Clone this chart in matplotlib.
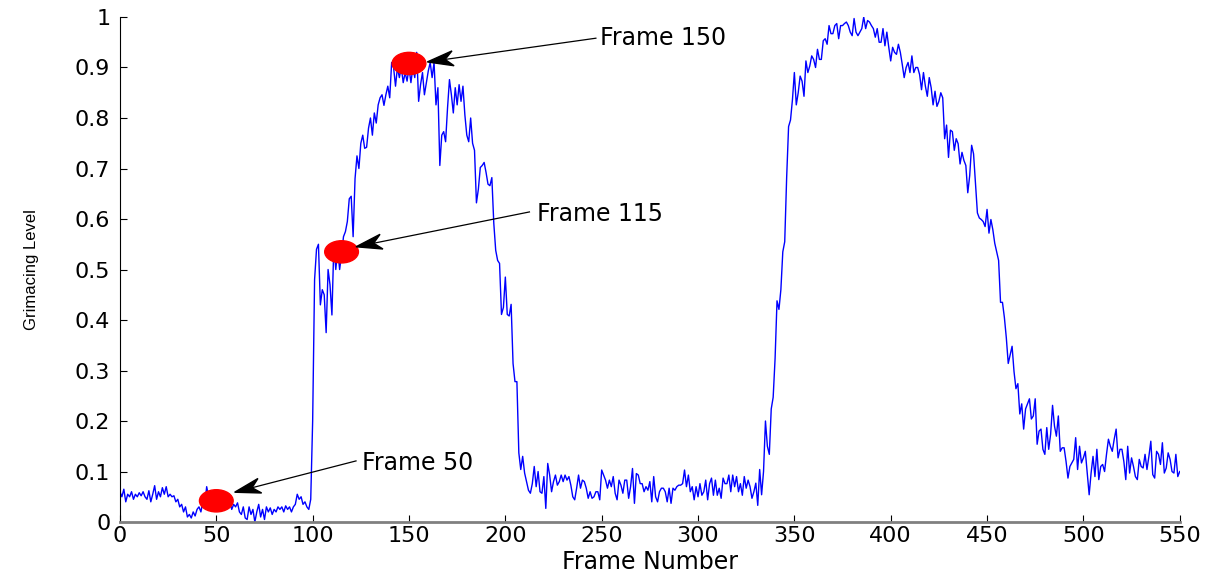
import numpy as np
import matplotlib
matplotlib.use("Agg")
import matplotlib.pyplot as plt
from matplotlib.patches import Ellipse, Polygon

# Grimacing level per frame (frames 0..550)
level_rest1 = [
    0.06, 0.05, 0.065, 0.04, 0.055, 0.05, 0.06, 0.045, 0.055, 0.05,
    0.058, 0.052, 0.06, 0.05, 0.045, 0.062, 0.04, 0.055, 0.072, 0.045,
    0.06, 0.05, 0.068, 0.055, 0.07, 0.05, 0.055, 0.05, 0.052, 0.04,
    0.045, 0.03, 0.035, 0.02, 0.03, 0.01, 0.015, 0.008, 0.02, 0.012,
    0.025, 0.03, 0.02, 0.04, 0.035, 0.07, 0.05, 0.06, 0.045, 0.055,
    0.04, 0.05, 0.045, 0.06, 0.035, 0.045, 0.03, 0.04, 0.025, 0.035,
    0.03, 0.038, 0.02, 0.015, 0.03, 0.008, 0.005, 0.03, 0.015, 0.025,
    0.0, 0.02, 0.035, 0.01, 0.025, 0.005, 0.03, 0.02, 0.028, 0.015,
    0.025, 0.02, 0.03, 0.025, 0.03, 0.02, 0.032, 0.025, 0.03, 0.02,
    0.03, 0.035, 0.055, 0.045, 0.05, 0.035, 0.04, 0.03, 0.025, 0.045,
]
level_peak1 = [
    0.2, 0.48, 0.54, 0.55, 0.43, 0.46, 0.45, 0.375, 0.5, 0.47,
    0.41, 0.55, 0.5, 0.54, 0.5, 0.53, 0.565, 0.575, 0.595, 0.64,
    0.645, 0.565, 0.68, 0.725, 0.7, 0.75, 0.766, 0.74, 0.742, 0.78,
    0.8, 0.766, 0.81, 0.79, 0.826, 0.84, 0.846, 0.825, 0.846, 0.863,
    0.84, 0.91, 0.9, 0.863, 0.9, 0.88, 0.9, 0.87, 0.89, 0.873,
    0.9, 0.87, 0.9, 0.88, 0.93, 0.833, 0.866, 0.89, 0.846, 0.87,
    0.893, 0.91, 0.88, 0.91, 0.826, 0.86, 0.706, 0.766, 0.773, 0.753,
    0.82, 0.876, 0.846, 0.81, 0.86, 0.826, 0.866, 0.833, 0.863, 0.806,
    0.766, 0.753, 0.8, 0.75, 0.736, 0.632, 0.659, 0.702, 0.706, 0.712,
    0.692, 0.669, 0.666, 0.682, 0.592, 0.538, 0.518, 0.512, 0.411, 0.425,
    0.485, 0.411, 0.408, 0.431, 0.314, 0.278, 0.278, 0.137, 0.104, 0.13,
    0.097,
]
level_rest2 = [
    0.08, 0.063, 0.057, 0.076, 0.11, 0.07, 0.1, 0.06, 0.057, 0.09,
    0.027, 0.116, 0.093, 0.06, 0.08, 0.093, 0.073, 0.08, 0.093, 0.08,
    0.093, 0.083, 0.09, 0.073, 0.05, 0.044, 0.067, 0.093, 0.067, 0.083,
    0.08, 0.067, 0.047, 0.06, 0.047, 0.05, 0.06, 0.06, 0.044, 0.103,
    0.093, 0.083, 0.067, 0.083, 0.07, 0.09, 0.057, 0.044, 0.083, 0.073,
    0.057, 0.083, 0.083, 0.047, 0.07, 0.106, 0.037, 0.096, 0.093, 0.076,
    0.076, 0.06, 0.07, 0.063, 0.08, 0.04, 0.09, 0.05, 0.04, 0.06,
    0.067, 0.067, 0.06, 0.04, 0.067, 0.037, 0.067, 0.063, 0.07, 0.073,
    0.073, 0.076, 0.103, 0.07, 0.093, 0.06, 0.07, 0.044, 0.07, 0.05,
    0.076, 0.053, 0.06, 0.083, 0.044, 0.076, 0.087, 0.053, 0.083, 0.053,
    0.067, 0.047, 0.087, 0.076, 0.076, 0.093, 0.06, 0.093, 0.07, 0.09,
    0.06, 0.076, 0.053, 0.09, 0.067, 0.083, 0.07,
]
level_peak2 = [
    0.047, 0.06, 0.077, 0.033, 0.104, 0.054, 0.1, 0.2, 0.15, 0.134,
    0.224, 0.247, 0.324, 0.438, 0.421, 0.46, 0.535, 0.555, 0.682, 0.783,
    0.796, 0.836, 0.89, 0.826, 0.85, 0.883, 0.873, 0.843, 0.913, 0.89,
    0.903, 0.923, 0.916, 0.9, 0.936, 0.916, 0.916, 0.953, 0.957, 0.946,
    0.983, 0.967, 0.967, 0.983, 0.987, 0.957, 0.983, 0.983, 0.987, 0.99,
    0.983, 0.97, 0.963, 0.997, 0.97, 0.963, 0.97, 0.977, 1.0, 0.977,
    0.993, 0.99, 0.983, 0.977, 0.96, 0.977, 0.95, 0.95, 0.977, 0.943,
    0.97, 0.94, 0.913, 0.94, 0.93, 0.926, 0.946, 0.93, 0.906, 0.88,
    0.9, 0.91, 0.89, 0.923, 0.89, 0.9, 0.9, 0.886, 0.856, 0.89,
    0.863, 0.843, 0.88, 0.86, 0.826, 0.853, 0.823, 0.833, 0.85, 0.84,
    0.759, 0.786, 0.722, 0.776, 0.773, 0.736, 0.759, 0.749, 0.709, 0.732,
    0.716, 0.706, 0.652, 0.686, 0.746, 0.729, 0.669, 0.612, 0.602, 0.599,
    0.595, 0.585, 0.619, 0.572, 0.599,
]
level_tail = [
    0.579, 0.552, 0.535, 0.518, 0.435, 0.435, 0.405, 0.365, 0.314, 0.331,
    0.348, 0.298, 0.264, 0.274, 0.214, 0.234, 0.184, 0.224, 0.234, 0.244,
    0.204, 0.21, 0.244, 0.154, 0.18, 0.184, 0.144, 0.134, 0.187, 0.144,
    0.174, 0.231, 0.19, 0.17, 0.21, 0.14, 0.147, 0.147, 0.12, 0.087,
    0.11, 0.117, 0.124, 0.167, 0.104, 0.15, 0.117, 0.127, 0.14, 0.097,
    0.054, 0.097, 0.13, 0.09, 0.144, 0.084, 0.11, 0.114, 0.1, 0.134,
    0.164, 0.15, 0.14, 0.164, 0.184, 0.127, 0.144, 0.144, 0.12, 0.084,
    0.15, 0.097, 0.127, 0.11, 0.09, 0.084, 0.124, 0.11, 0.107, 0.134,
    0.104, 0.13, 0.16, 0.094, 0.087, 0.14, 0.134, 0.114, 0.157, 0.097,
    0.107, 0.137, 0.124, 0.1, 0.097, 0.134, 0.09, 0.1,
]

# marked frames and where their labels sit
mark_frames = [50, 115, 150]
mark_levels = [0.042, 0.535, 0.908]
mark_labels = ["Frame 50", "Frame 115", "Frame 150"]
label_pos = [(125.5, 0.117), (216.5, 0.61), (249.0, 0.958)]
arrow_tail = [(122.5, 0.121), (212.5, 0.614), (247.0, 0.958)]
arrow_head = [(59.5, 0.059), (122.5, 0.545), (159.5, 0.911)]

level = np.array(level_rest1 + level_peak1 + level_rest2 + level_peak2 + level_tail)
frames = np.arange(len(level))

fig = plt.figure(figsize=(12.07, 5.76), dpi=100)
ax = fig.add_axes([0.0994, 0.0937, 0.878, 0.8768])

ax.plot(frames, level, color="#0000ff", linewidth=1.0)
ax.set_xlim(0, 550)
ax.set_ylim(0, 1)


def matlab_arrow(ax, tail, head, length=26, half_w=7.5, notch=8):
    # notched arrow head drawn in pixel space, then mapped back to data
    p0 = ax.transData.transform(tail)
    p1 = ax.transData.transform(head)
    d = (p1 - p0) / np.hypot(*(p1 - p0))
    n = np.array([-d[1], d[0]])
    base = p1 - d * length
    notch_pt = p1 - d * (length - notch)
    pts = np.array([p1, base + n * half_w, notch_pt, base - n * half_w])
    inv = ax.transData.inverted()
    line = inv.transform(np.array([p0, notch_pt]))
    ax.plot(line[:, 0], line[:, 1], color="black", linewidth=0.9, zorder=5)
    ax.add_patch(Polygon(inv.transform(pts), closed=True, color="black", zorder=5))


for f, v in zip(mark_frames, mark_levels):
    ax.add_patch(Ellipse((f, v), width=17.5, height=0.044, color="red", zorder=4))

for txt, (tx, ty), tail, head in zip(mark_labels, label_pos, arrow_tail, arrow_head):
    ax.text(tx, ty, txt, fontsize=17, family="DejaVu Sans", va="center", ha="left")
    matlab_arrow(ax, tail, head)

ax.set_xticks(np.arange(0, 551, 50))
ax.set_yticks(np.arange(0, 1.01, 0.1))
ax.set_yticklabels(["0", "0.1", "0.2", "0.3", "0.4", "0.5", "0.6", "0.7", "0.8", "0.9", "1"])

ax.spines["top"].set_visible(False)
ax.spines["right"].set_visible(False)
ax.spines["left"].set_color("black")
ax.spines["bottom"].set_color("#808080")
ax.spines["bottom"].set_linewidth(2.0)

ax.tick_params(direction="in", length=5, width=0.8)
for lab in ax.get_yticklabels():
    lab.set_family("DejaVu Sans")
    lab.set_fontsize(16)
for lab in ax.get_xticklabels():
    lab.set_family("DejaVu Sans")
    lab.set_fontsize(16)
ax.tick_params(axis="y", pad=7)
ax.tick_params(axis="x", pad=3)

ax.set_xlabel("Frame Number", fontsize=17, family="DejaVu Sans", labelpad=3)
ax.set_ylabel("Grimacing Level", fontsize=12, family="Liberation Sans", labelpad=26)

fig.savefig("out.png", dpi=100)
